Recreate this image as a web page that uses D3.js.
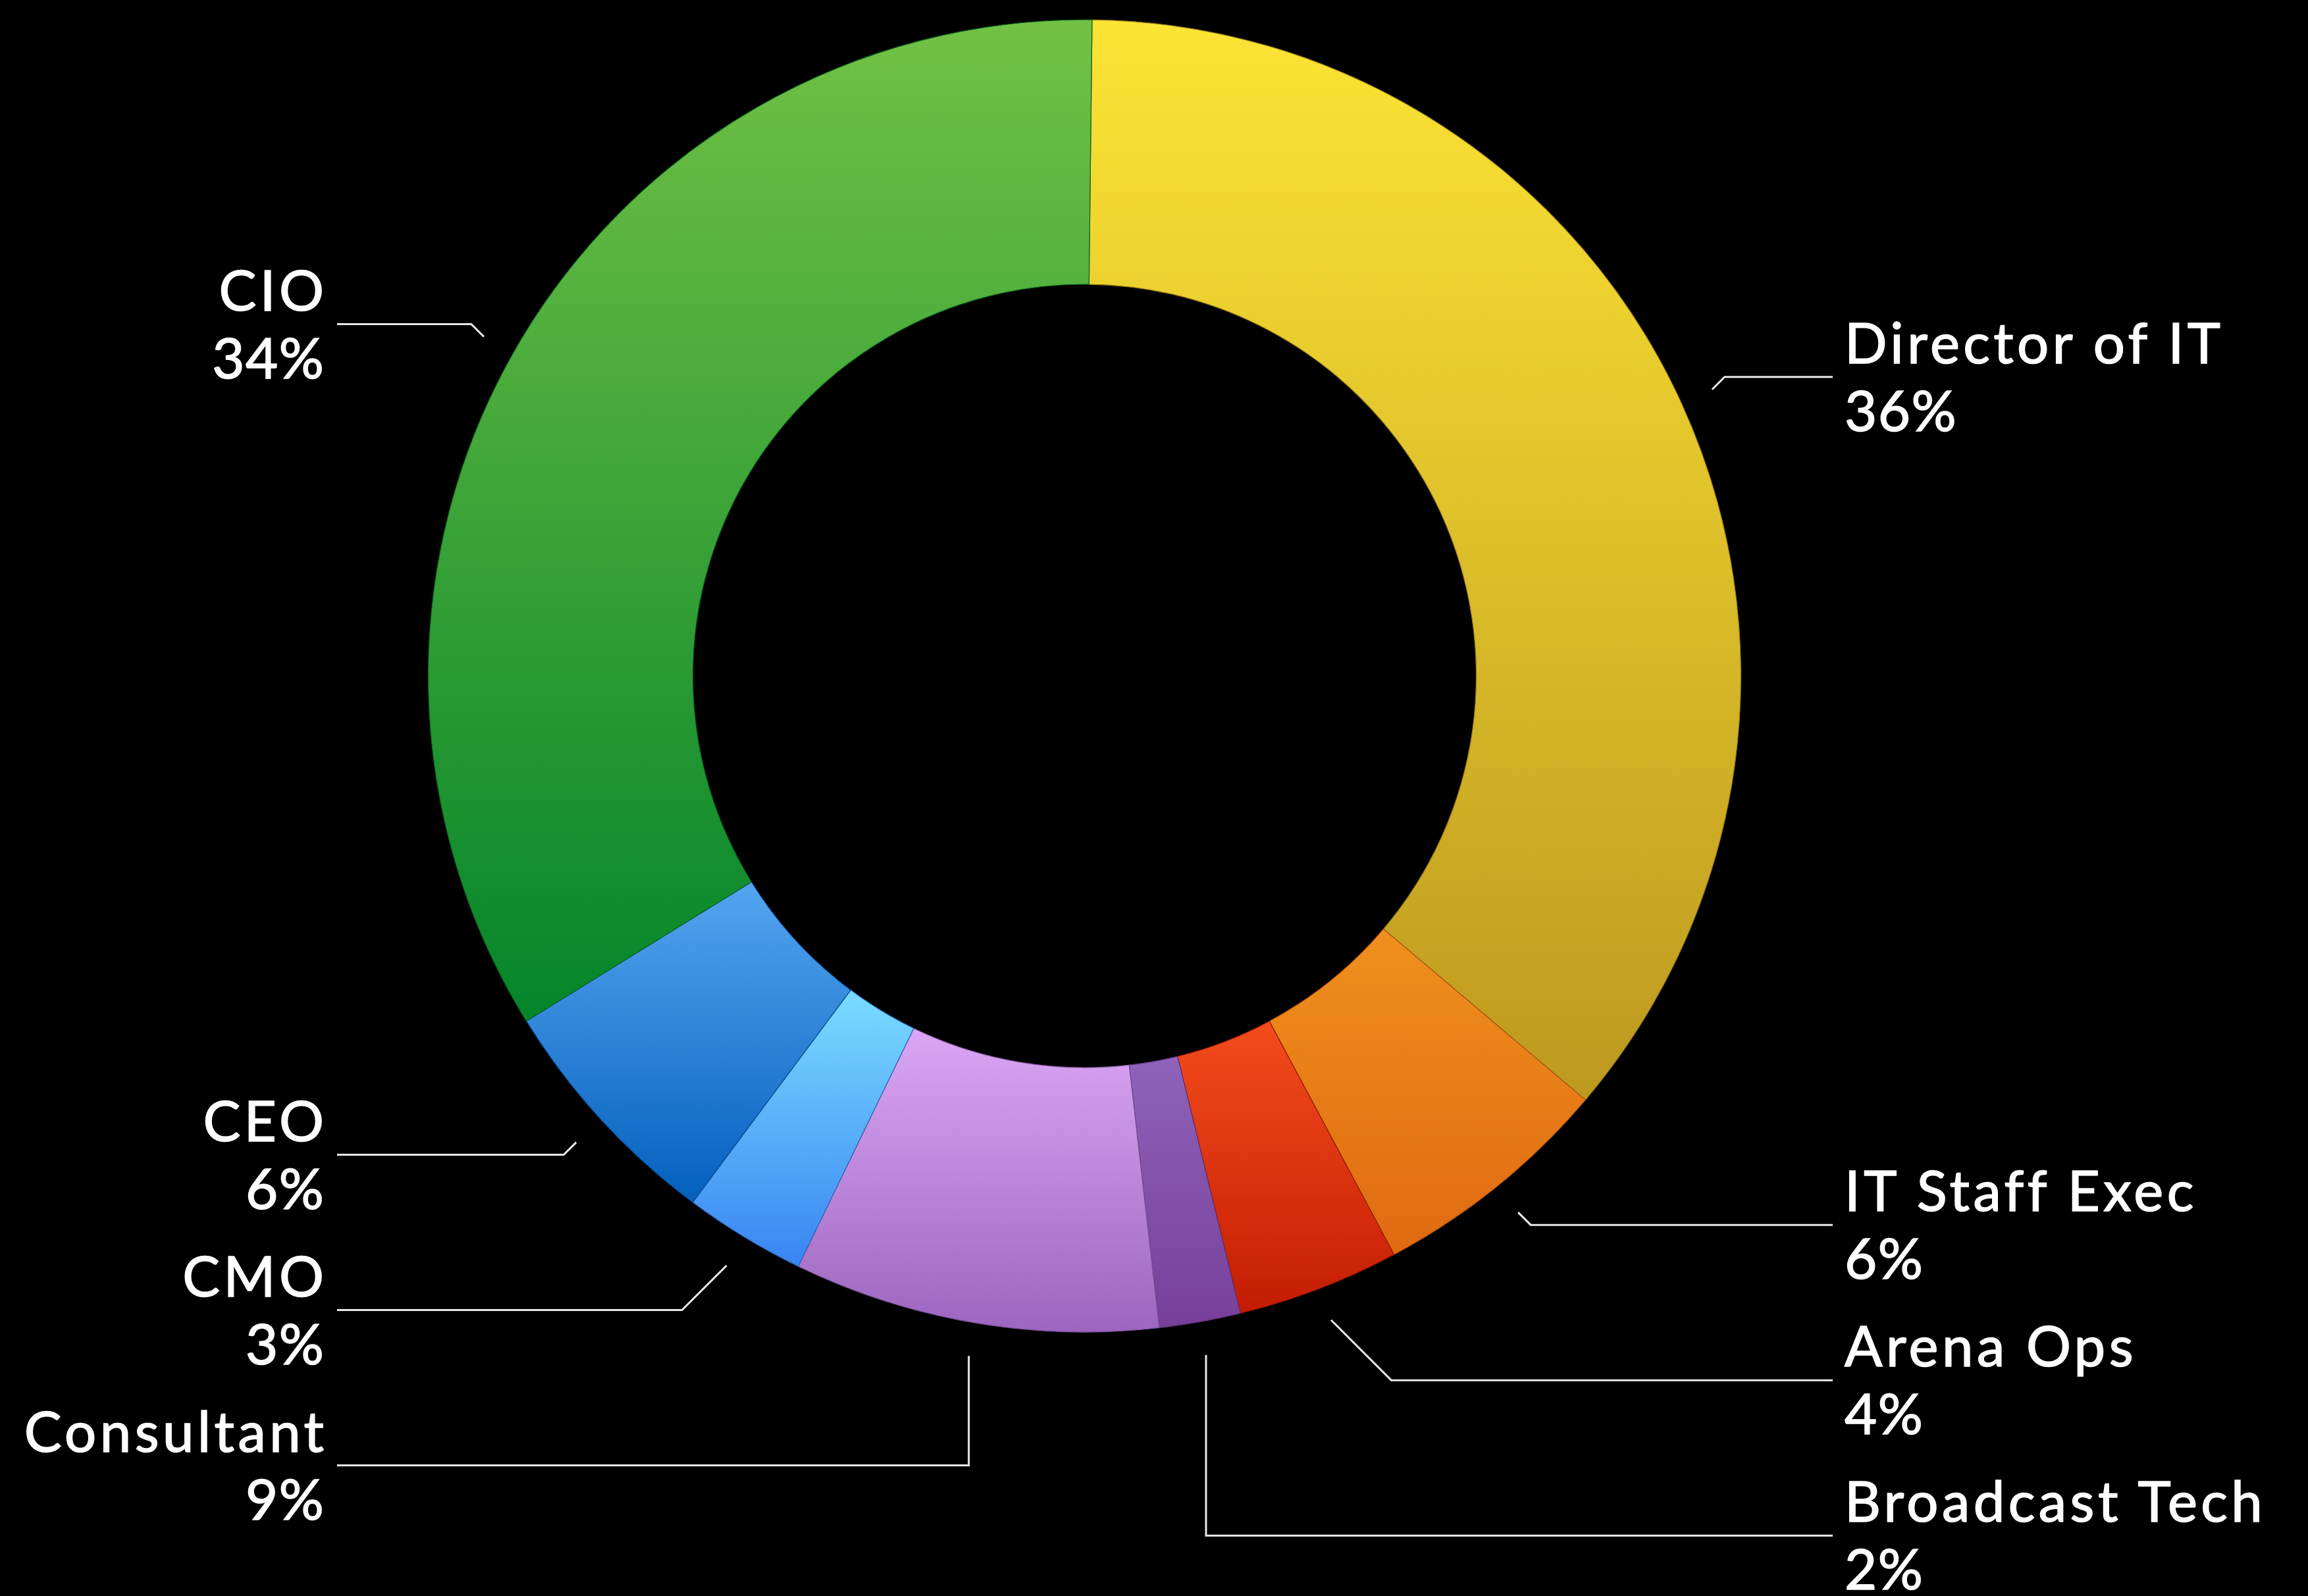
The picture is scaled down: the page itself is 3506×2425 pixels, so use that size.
<!DOCTYPE html>
<html>
<head>
<meta charset="utf-8">
<script src="https://cdn.jsdelivr.net/npm/d3@7"></script>
<style>
  html, body { margin: 0; padding: 0; background: #000; }
  svg { display: block; }
</style>
</head>
<body>
<script>
// ---- data ----
const categories = ["Director of IT", "IT Staff Exec", "Arena Ops", "Broadcast Tech", "Consultant", "CMO", "CEO", "CIO"];
const shares = [36, 6, 4, 2, 9, 3, 6, 34];
const colorTop = ["#fce434", "#f0901c", "#f44c1c", "#8e63ba", "#dca6f5", "#7adcff", "#55a5f0", "#72c145"];
const colorBottom = ["#bd991f", "#df6a12", "#c41c03", "#773f9a", "#9c66c0", "#3984f2", "#0460be", "#04852a"];

// ---- layout ----
const W = 3506, H = 2425;
const cx = 1647.5, cy = 1027;
const rOuter = 997, rInner = 595;
const rotation = 0.0115;       // slight rotation of the first slice boundary
const anchorR = 1048;          // leader start radius
const elbowStep = 19;          // natural 45° elbow length
const minGap = 236;            // min vertical distance between stacked labels
const verticalThreshold = 120; // beyond this, leader drops vertically
const rightLineEnd = 2784, rightTextX = 2802;
const leftLineEnd = 512, leftTextX = 492;
const fontSize = 85;
const nameSpacing = 5.5, pctSpacing = 1.5;

const svg = d3.select("body").append("svg")
  .attr("width", W).attr("height", H)
  .style("background", "#000");

const defs = svg.append("defs");
categories.forEach((c, i) => {
  const g = defs.append("linearGradient")
    .attr("id", "grad" + i)
    .attr("x1", 0).attr("y1", 0).attr("x2", 0).attr("y2", 1);
  g.append("stop").attr("offset", "0%").attr("stop-color", colorTop[i]);
  g.append("stop").attr("offset", "100%").attr("stop-color", colorBottom[i]);
});

const pie = d3.pie().sort(null).value(d => d)
  .startAngle(rotation).endAngle(rotation + 2 * Math.PI);
const arcs = pie(shares);
const arc = d3.arc().innerRadius(rInner).outerRadius(rOuter);

const g = svg.append("g").attr("transform", `translate(${cx},${cy})`);

g.selectAll("path.slice")
  .data(arcs)
  .join("path")
  .attr("class", "slice")
  .attr("d", arc)
  .attr("fill", (d, i) => `url(#grad${i})`)
  .attr("stroke", (d, i) => d3.color(colorBottom[i]).darker(0.8))
  .attr("stroke-width", 1.2);

// ---- labels ----
const items = arcs.map((d, i) => {
  const a = (d.startAngle + d.endAngle) / 2;
  const ax = anchorR * Math.sin(a);
  const ay = -anchorR * Math.cos(a);
  const side = ax >= 0 ? 1 : -1;
  const vdir = ay >= 0 ? 1 : -1;
  return { i, name: categories[i], value: shares[i], ax, ay, side, natural: ay + vdir * elbowStep };
});

[1, -1].forEach(side => {
  const list = items.filter(d => d.side === side).sort((a, b) => a.natural - b.natural);
  let prev = -Infinity;
  list.forEach(d => {
    d.ly = Math.max(d.natural, prev + minGap);
    prev = d.ly;
  });
});

items.forEach(d => {
  const dy = d.ly - d.ay;
  const ex = Math.abs(dy) > verticalThreshold ? d.ax : d.ax + d.side * Math.abs(dy);
  const endX = (d.side > 0 ? rightLineEnd : leftLineEnd) - cx;
  d.points = [[d.ax, d.ay], [ex, d.ly], [endX, d.ly]];
});

g.selectAll("path.leader")
  .data(items)
  .join("path")
  .attr("class", "leader")
  .attr("d", d => d3.line()(d.points))
  .attr("fill", "none")
  .attr("stroke", "#e8e8e8")
  .attr("stroke-width", 3);

const labels = g.selectAll("g.label")
  .data(items)
  .join("g")
  .attr("class", "label");

labels.each(function(d) {
  const sel = d3.select(this);
  const x = (d.side > 0 ? rightTextX : leftTextX) - cx;
  const anchor = d.side > 0 ? "start" : "end";
  const trail = d.side > 0 ? 0 : 1;  // compensate trailing letter-spacing on end-anchored text
  sel.append("text")
    .attr("class", "name")
    .attr("x", x + trail * nameSpacing).attr("y", d.ly - 21)
    .attr("text-anchor", anchor)
    .attr("letter-spacing", nameSpacing)
    .text(d.name);
  sel.append("text")
    .attr("class", "pct")
    .attr("x", x + trail * pctSpacing).attr("y", d.ly + 82)
    .attr("text-anchor", anchor)
    .attr("letter-spacing", pctSpacing)
    .text(d.value + "%");
});

labels.selectAll("text")
  .attr("fill", "#ffffff")
  .attr("stroke", "#ffffff")
  .attr("stroke-width", 1.6)
  .attr("paint-order", "stroke")
  .attr("font-family", "Lato, 'Noto Sans', sans-serif")
  .attr("font-size", fontSize);
</script>
</body>
</html>
